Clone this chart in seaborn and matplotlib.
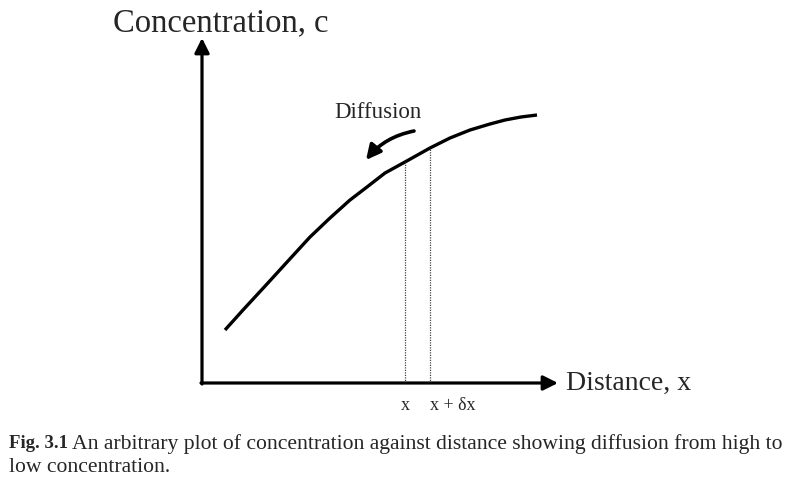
import matplotlib
matplotlib.use("Agg")
import matplotlib.pyplot as plt
import numpy as np
import pandas as pd
import seaborn as sns

# curve (arbitrary units: distance, concentration)
distance = [23, 41, 65, 86, 108, 128, 148, 165, 183, 203, 228, 248, 268, 288, 303, 319, 335]
concentration = [53, 73, 99, 122, 146, 165, 183, 196, 210, 221, 235, 245, 253, 259, 263, 266, 268]

x_mark = 203
dx_mark = 228

df = pd.DataFrame({"distance": distance, "concentration": concentration})

sns.set_style("white")
plt.rcParams["font.family"] = ["Liberation Serif", "DejaVu Serif"]

fig = plt.figure(figsize=(8.06, 4.91), dpi=100)
ax = fig.add_axes([202 / 806, (491 - 383) / 491, (806 - 202) / 806, 383 / 491])
ax.set_xlim(0, 604)
ax.set_ylim(0, 383)
ax.axis("off")

# the curve
sns.lineplot(data=df, x="distance", y="concentration", color="black", lw=2.4, ax=ax,
             sort=False, solid_joinstyle="round", solid_capstyle="butt")

# dotted lines down from the curve at x and x + dx
for xm in (x_mark, dx_mark):
    ym = np.interp(xm, distance, concentration)
    ax.plot([xm, xm], [0, ym], color="#444444", lw=0.9, ls=(0, (1, 1)))

# axes with arrowheads
arrow = dict(arrowstyle="-|>", color="black", lw=2.3, mutation_scale=22, shrinkA=0, shrinkB=0)
ax.annotate("", xy=(356, 0), xytext=(-1, 0), arrowprops=arrow, annotation_clip=False)
ax.annotate("", xy=(0, 345), xytext=(0, -1), arrowprops=arrow, annotation_clip=False)

ax.text(-89, 360, "Concentration, c", fontsize=23.5, ha="left", va="center", clip_on=False)
ax.text(364, 0, "Distance, x", fontsize=20, ha="left", va="center", clip_on=False)

ax.text(x_mark, -22, "x", fontsize=13, ha="center", va="center")
ax.text(dx_mark + 23, -22, "x + δx", fontsize=13, ha="center", va="center")

# diffusion arrow
ax.text(176, 270, "Diffusion", fontsize=16.5, ha="center", va="center")
ax.annotate("", xy=(164, 223), xytext=(212, 252),
            arrowprops=dict(arrowstyle="-|>", color="black", lw=2.6, mutation_scale=22,
                            shrinkA=0, shrinkB=0, connectionstyle="arc3,rad=0.18"))

# caption
fig.text(9 / 806, 1 - 444 / 491, "Fig. 3.1", fontsize=13.5, fontweight="bold",
         ha="left", va="center")
fig.text(72 / 806, 1 - 444 / 491,
         "An arbitrary plot of concentration against distance showing diffusion from high to",
         fontsize=15.6, ha="left", va="center")
fig.text(9 / 806, 1 - 467 / 491, "low concentration.", fontsize=15.6, ha="left", va="center")

fig.savefig("out.png", dpi=100)
